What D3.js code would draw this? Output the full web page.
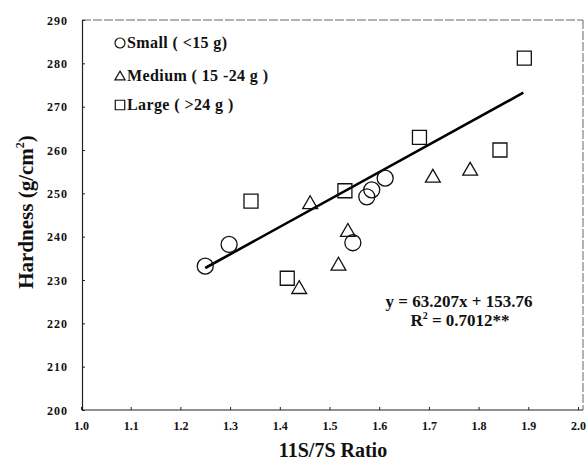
<!DOCTYPE html>
<meta charset="utf-8">
<html>
<head>
<script src="https://d3js.org/d3.v7.min.js"></script>
<style>
  body { margin: 0; background: white; }
  text { font-family: "Liberation Serif", "Times New Roman", serif; font-weight: bold; fill: #111; }
</style>
</head>
<body>
<div id="chart"></div>
<script>
// data
const smallX  = [1.250, 1.298, 1.547, 1.575, 1.585, 1.612];
const smallY  = [233.2, 238.2, 238.6, 249.2, 250.8, 253.5];
const mediumX = [1.439, 1.461, 1.518, 1.537, 1.708, 1.783];
const mediumY = [228.1, 247.7, 233.5, 241.3, 253.8, 255.4];
const largeX  = [1.342, 1.415, 1.531, 1.681, 1.843, 1.892];
const largeY  = [248.2, 230.4, 250.6, 262.9, 260.0, 281.2];
const legendLabels = ["Small ( <15 g)", "Medium ( 15 -24 g )", "Large ( >24 g )"];
const xTicks = [1.0, 1.1, 1.2, 1.3, 1.4, 1.5, 1.6, 1.7, 1.8, 1.9, 2.0];
const yTicks = [200, 210, 220, 230, 240, 250, 260, 270, 280, 290];
const slope = 63.207, intercept = 153.76;
const fitRange = [1.25, 1.89];

const W = 587, H = 465;
const svg = d3.select("#chart").append("svg").attr("width", W).attr("height", H);

const x = d3.scaleLinear().domain([1.0, 2.0]).range([81, 578]);
const y = d3.scaleLinear().domain([200, 290]).range([410, 20]);

// frame (top/right lighter, like the scan)
svg.append("line").attr("x1", 82).attr("x2", 583).attr("y1", 20).attr("y2", 20)
  .attr("stroke", "#666").attr("stroke-dasharray", "9,2");
svg.append("line").attr("x1", 583).attr("x2", 583).attr("y1", 20).attr("y2", 410)
  .attr("stroke", "#666").attr("stroke-dasharray", "9,2");

// axes
const gx = svg.append("g").attr("transform", "translate(0,410)")
  .call(d3.axisBottom(x).tickValues(xTicks).tickSizeInner(-3).tickSizeOuter(0).tickFormat(d3.format(".1f")));
const gy = svg.append("g").attr("transform", "translate(82,0)")
  .call(d3.axisLeft(y).tickValues(yTicks).tickSizeInner(-3).tickSizeOuter(0));
[gx, gy].forEach(g => {
  g.select(".domain").attr("stroke", "#222").attr("stroke-width", 1.2);
  g.selectAll(".tick line").attr("stroke", "#222");
  g.selectAll("text").style("font-family", "Liberation Serif").style("font-weight", "bold")
    .style("font-size", "12px").attr("fill", "#111");
});
gx.select(".domain").attr("d", "M82,0H583");
gx.selectAll("text").attr("dy", "1.45em");
gy.selectAll("text").attr("x", -14).attr("dy", "0.35em").style("letter-spacing", "1px");

// regression line
svg.append("path")
  .datum(fitRange)
  .attr("fill", "none").attr("stroke", "#000").attr("stroke-width", 2.6)
  .attr("d", d3.line().x(d => x(d)).y(d => y(slope * d + intercept)));

// points
const sym = {
  circle: d3.symbol().type(d3.symbolCircle).size(Math.PI * 8 * 8),
  triangle: d3.symbol().type(d3.symbolTriangle).size(95),
  square: d3.symbol().type(d3.symbolSquare).size(14 * 14)
};
function drawSeries(xs, ys, shape) {
  svg.append("g").selectAll("path")
    .data(xs.map((v, i) => [v, ys[i]]))
    .join("path")
    .attr("d", sym[shape])
    .attr("transform", d => `translate(${x(d[0])},${y(d[1]) + (shape === "triangle" ? 1 : 0)})`)
    .attr("fill", "none").attr("stroke", "#111").attr("stroke-width", 1.3);
}
drawSeries(smallX, smallY, "circle");
drawSeries(mediumX, mediumY, "triangle");
drawSeries(largeX, largeY, "square");

// legend
const legShapes = [
  d3.symbol().type(d3.symbolCircle).size(Math.PI * 25),
  d3.symbol().type(d3.symbolTriangle).size(45),
  d3.symbol().type(d3.symbolSquare).size(90)
];
const legY = [43, 76, 105];
legendLabels.forEach((lab, i) => {
  svg.append("path").attr("d", legShapes[i])
    .attr("transform", `translate(120,${legY[i] + (i === 1 ? 1 : 0)})`)
    .attr("fill", "none").attr("stroke", "#111").attr("stroke-width", 1.2);
  svg.append("text").attr("x", 127).attr("y", legY[i] + 5)
    .style("font-size", "16px").style("letter-spacing", "0.4px").text(lab);
});

// equation
svg.append("text").attr("x", 459).attr("y", 307).attr("text-anchor", "middle")
  .style("font-size", "17px").text("y = 63.207x + 153.76");
const r2 = svg.append("text").attr("x", 460).attr("y", 326).attr("text-anchor", "middle")
  .style("font-size", "17px");
r2.append("tspan").text("R");
r2.append("tspan").attr("dy", -7).style("font-size", "10px").text("2");
r2.append("tspan").attr("dy", 7).text(" = 0.7012**");

// axis titles
svg.append("text").attr("x", 333).attr("y", 457).attr("text-anchor", "middle")
  .style("font-size", "20px").text("11S/7S Ratio");
const yt = svg.append("text").attr("transform", "translate(33,212) rotate(-90)")
  .attr("text-anchor", "middle").style("font-size", "21px");
yt.append("tspan").text("Hardness (g/cm");
yt.append("tspan").attr("dy", -9).style("font-size", "12px").text("2");
yt.append("tspan").attr("dy", 9).text(")");
</script>
</body>
</html>
